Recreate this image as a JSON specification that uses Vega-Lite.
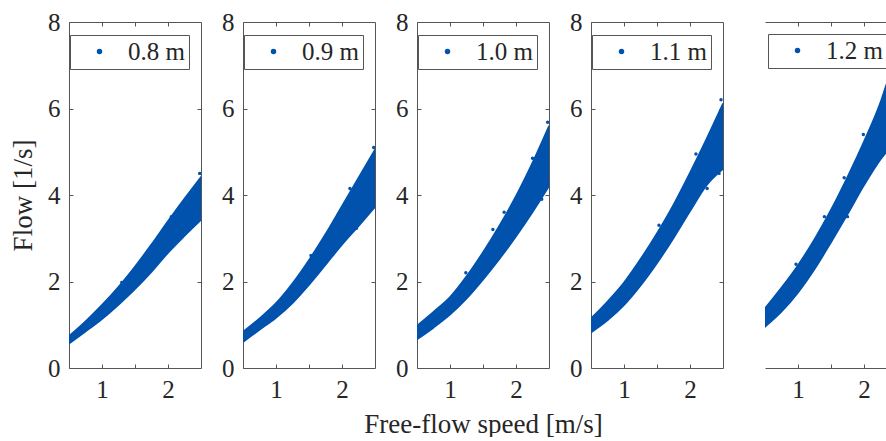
{
  "$schema": "https://vega.github.io/schema/vega-lite/v6.json",
  "padding": {"left": 9, "top": 10, "right": 0, "bottom": 0},
  "datasets": {
    "band": [
      {"h": "0.8 m", "x": 0.5, "lo": 0.56, "hi": 0.74},
      {"h": "0.8 m", "x": 0.75, "lo": 0.84, "hi": 1.08},
      {"h": "0.8 m", "x": 1.0, "lo": 1.13, "hi": 1.46},
      {"h": "0.8 m", "x": 1.25, "lo": 1.46, "hi": 1.88},
      {"h": "0.8 m", "x": 1.5, "lo": 1.82, "hi": 2.35},
      {"h": "0.8 m", "x": 1.75, "lo": 2.22, "hi": 2.86},
      {"h": "0.8 m", "x": 2.0, "lo": 2.66, "hi": 3.4},
      {"h": "0.8 m", "x": 2.25, "lo": 3.05, "hi": 3.92},
      {"h": "0.8 m", "x": 2.5, "lo": 3.42, "hi": 4.42},
      {"h": "0.9 m", "x": 0.5, "lo": 0.6, "hi": 0.84},
      {"h": "0.9 m", "x": 0.75, "lo": 0.88, "hi": 1.15},
      {"h": "0.9 m", "x": 1.0, "lo": 1.16, "hi": 1.5},
      {"h": "0.9 m", "x": 1.25, "lo": 1.5, "hi": 1.96},
      {"h": "0.9 m", "x": 1.5, "lo": 1.92, "hi": 2.5},
      {"h": "0.9 m", "x": 1.75, "lo": 2.38, "hi": 3.1},
      {"h": "0.9 m", "x": 2.0, "lo": 2.85, "hi": 3.75},
      {"h": "0.9 m", "x": 2.25, "lo": 3.28, "hi": 4.4},
      {"h": "0.9 m", "x": 2.5, "lo": 3.72, "hi": 5.05},
      {"h": "1.0 m", "x": 0.5, "lo": 0.66, "hi": 0.98},
      {"h": "1.0 m", "x": 0.75, "lo": 0.93, "hi": 1.3},
      {"h": "1.0 m", "x": 1.0, "lo": 1.23, "hi": 1.64},
      {"h": "1.0 m", "x": 1.25, "lo": 1.6, "hi": 2.12},
      {"h": "1.0 m", "x": 1.5, "lo": 2.04, "hi": 2.68},
      {"h": "1.0 m", "x": 1.75, "lo": 2.52, "hi": 3.3},
      {"h": "1.0 m", "x": 2.0, "lo": 3.04, "hi": 3.98},
      {"h": "1.0 m", "x": 2.25, "lo": 3.6, "hi": 4.75},
      {"h": "1.0 m", "x": 2.5, "lo": 4.2, "hi": 5.6},
      {"h": "1.1 m", "x": 0.5, "lo": 0.82, "hi": 1.15},
      {"h": "1.1 m", "x": 0.75, "lo": 1.1, "hi": 1.54},
      {"h": "1.1 m", "x": 1.0, "lo": 1.45, "hi": 1.98},
      {"h": "1.1 m", "x": 1.25, "lo": 1.9, "hi": 2.52},
      {"h": "1.1 m", "x": 1.5, "lo": 2.42, "hi": 3.12},
      {"h": "1.1 m", "x": 1.75, "lo": 3.0, "hi": 3.78},
      {"h": "1.1 m", "x": 2.0, "lo": 3.62, "hi": 4.52},
      {"h": "1.1 m", "x": 2.25, "lo": 4.22, "hi": 5.3},
      {"h": "1.1 m", "x": 2.5, "lo": 4.6, "hi": 6.12},
      {"h": "1.2 m", "x": 0.5, "lo": 0.95, "hi": 1.38},
      {"h": "1.2 m", "x": 0.75, "lo": 1.3, "hi": 1.86},
      {"h": "1.2 m", "x": 1.0, "lo": 1.74, "hi": 2.38},
      {"h": "1.2 m", "x": 1.25, "lo": 2.28, "hi": 2.98},
      {"h": "1.2 m", "x": 1.5, "lo": 2.9, "hi": 3.66},
      {"h": "1.2 m", "x": 1.75, "lo": 3.55, "hi": 4.42},
      {"h": "1.2 m", "x": 2.0, "lo": 4.22, "hi": 5.24},
      {"h": "1.2 m", "x": 2.25, "lo": 4.82, "hi": 6.15},
      {"h": "1.2 m", "x": 2.35, "lo": 5.02, "hi": 6.6},
      {"h": "1.2 m", "x": 2.5, "lo": 5.4, "hi": 7.1}
    ],
    "pts": [
      {"h": "0.8 m", "x": 2.48, "y": 4.5},
      {"h": "0.8 m", "x": 1.3, "y": 1.98},
      {"h": "0.8 m", "x": 2.05, "y": 3.5},
      {"h": "0.9 m", "x": 1.53, "y": 2.6},
      {"h": "0.9 m", "x": 2.12, "y": 4.15},
      {"h": "0.9 m", "x": 2.22, "y": 3.23},
      {"h": "0.9 m", "x": 2.48, "y": 5.1},
      {"h": "1.0 m", "x": 1.82, "y": 3.6},
      {"h": "1.0 m", "x": 1.65, "y": 3.2},
      {"h": "1.0 m", "x": 2.39, "y": 3.9},
      {"h": "1.0 m", "x": 1.24, "y": 2.2},
      {"h": "1.0 m", "x": 2.25, "y": 4.85},
      {"h": "1.0 m", "x": 2.48, "y": 5.68},
      {"h": "1.1 m", "x": 1.53, "y": 3.3},
      {"h": "1.1 m", "x": 2.26, "y": 4.15},
      {"h": "1.1 m", "x": 2.47, "y": 6.2},
      {"h": "1.1 m", "x": 2.09, "y": 4.95},
      {"h": "1.1 m", "x": 2.44, "y": 4.5},
      {"h": "1.2 m", "x": 1.7, "y": 4.4},
      {"h": "1.2 m", "x": 1.99, "y": 5.4},
      {"h": "1.2 m", "x": 1.4, "y": 3.5},
      {"h": "1.2 m", "x": 0.97, "y": 2.4},
      {"h": "1.2 m", "x": 1.75, "y": 3.5}
    ]
  },
  "spacing": 42,
  "bounds": "flush",
  "resolve": {"scale": {"color": "independent"}, "legend": {"color": "independent"}},
  "hconcat": [
    {
      "width": 132, "height": 346,
      "layer": [
        {
          "data": {"name": "band"},
          "transform": [{"filter": "datum.h == '0.8 m'"}],
          "mark": {"type": "area", "clip": true, "interpolate": "monotone", "stroke": "#0052ad", "strokeWidth": 1.5},
          "encoding": {
            "x": {"field": "x", "type": "quantitative", "scale": {"domain": [0.5, 2.5], "nice": false, "zero": false},
                  "axis": {"orient": "bottom", "values": [1, 1.5, 2], "labelExpr": "datum.value == 1 ? '1' : datum.value == 2 ? '2' : ''", "title": null}},
            "y": {"field": "lo", "type": "quantitative", "scale": {"domain": [0, 8], "nice": false},
                  "axis": {"orient": "left", "values": [0, 2, 4, 6, 8], "title": "Flow [1/s]", "titlePadding": 10}},
            "y2": {"field": "hi"},
            "color": {"field": "h", "type": "nominal", "scale": {"range": ["#0052ad"]},
                      "legend": {"orient": "none", "legendX": 1, "legendY": 13}}
          }
        },
        {
          "data": {"name": "pts"},
          "transform": [{"filter": "datum.h == '0.8 m'"}],
          "mark": {"type": "circle", "size": 12, "opacity": 1, "color": "#0052ad", "clip": true},
          "encoding": {
            "x": {"field": "x", "type": "quantitative", "axis": null},
            "y": {"field": "y", "type": "quantitative", "axis": null}
          }
        },
        {
          "data": {"name": "band"},
          "transform": [{"filter": "datum.h == '0.8 m'"}],
          "mark": {"type": "area", "opacity": 0},
          "encoding": {
            "x": {"field": "x", "type": "quantitative", "axis": {"orient": "top", "values": [1, 1.5, 2], "labels": false, "title": null}},
            "y": {"field": "lo", "type": "quantitative", "axis": {"orient": "right", "values": [2, 4, 6], "labels": false, "title": null}},
            "y2": {"field": "hi"}
          }
        }
      ],
      "resolve": {"axis": {"x": "independent", "y": "independent"}}
    },
    {
      "width": 132, "height": 346,
      "layer": [
        {
          "data": {"name": "band"},
          "transform": [{"filter": "datum.h == '0.9 m'"}],
          "mark": {"type": "area", "clip": true, "interpolate": "monotone", "stroke": "#0052ad", "strokeWidth": 1.5},
          "encoding": {
            "x": {"field": "x", "type": "quantitative", "scale": {"domain": [0.5, 2.5], "nice": false, "zero": false},
                  "axis": {"orient": "bottom", "values": [1, 1.5, 2], "labelExpr": "datum.value == 1 ? '1' : datum.value == 2 ? '2' : ''", "title": null}},
            "y": {"field": "lo", "type": "quantitative", "scale": {"domain": [0, 8], "nice": false},
                  "axis": {"orient": "left", "values": [0, 2, 4, 6, 8], "title": null}},
            "y2": {"field": "hi"},
            "color": {"field": "h", "type": "nominal", "scale": {"range": ["#0052ad"]},
                      "legend": {"orient": "none", "legendX": 1, "legendY": 13}}
          }
        },
        {
          "data": {"name": "pts"},
          "transform": [{"filter": "datum.h == '0.9 m'"}],
          "mark": {"type": "circle", "size": 12, "opacity": 1, "color": "#0052ad", "clip": true},
          "encoding": {
            "x": {"field": "x", "type": "quantitative", "axis": null},
            "y": {"field": "y", "type": "quantitative", "axis": null}
          }
        },
        {
          "data": {"name": "band"},
          "transform": [{"filter": "datum.h == '0.9 m'"}],
          "mark": {"type": "area", "opacity": 0},
          "encoding": {
            "x": {"field": "x", "type": "quantitative", "axis": {"orient": "top", "values": [1, 1.5, 2], "labels": false, "title": null}},
            "y": {"field": "lo", "type": "quantitative", "axis": {"orient": "right", "values": [2, 4, 6], "labels": false, "title": null}},
            "y2": {"field": "hi"}
          }
        }
      ],
      "resolve": {"axis": {"x": "independent", "y": "independent"}}
    },
    {
      "width": 132, "height": 346,
      "layer": [
        {
          "data": {"name": "band"},
          "transform": [{"filter": "datum.h == '1.0 m'"}],
          "mark": {"type": "area", "clip": true, "interpolate": "monotone", "stroke": "#0052ad", "strokeWidth": 1.5},
          "encoding": {
            "x": {"field": "x", "type": "quantitative", "scale": {"domain": [0.5, 2.5], "nice": false, "zero": false},
                  "axis": {"orient": "bottom", "values": [1, 1.5, 2], "labelExpr": "datum.value == 1 ? '1' : datum.value == 2 ? '2' : ''", "title": "Free-flow speed [m/s]", "titlePadding": 9}},
            "y": {"field": "lo", "type": "quantitative", "scale": {"domain": [0, 8], "nice": false},
                  "axis": {"orient": "left", "values": [0, 2, 4, 6, 8], "title": null}},
            "y2": {"field": "hi"},
            "color": {"field": "h", "type": "nominal", "scale": {"range": ["#0052ad"]},
                      "legend": {"orient": "none", "legendX": 1, "legendY": 13}}
          }
        },
        {
          "data": {"name": "pts"},
          "transform": [{"filter": "datum.h == '1.0 m'"}],
          "mark": {"type": "circle", "size": 12, "opacity": 1, "color": "#0052ad", "clip": true},
          "encoding": {
            "x": {"field": "x", "type": "quantitative", "axis": null},
            "y": {"field": "y", "type": "quantitative", "axis": null}
          }
        },
        {
          "data": {"name": "band"},
          "transform": [{"filter": "datum.h == '1.0 m'"}],
          "mark": {"type": "area", "opacity": 0},
          "encoding": {
            "x": {"field": "x", "type": "quantitative", "axis": {"orient": "top", "values": [1, 1.5, 2], "labels": false, "title": null}},
            "y": {"field": "lo", "type": "quantitative", "axis": {"orient": "right", "values": [2, 4, 6], "labels": false, "title": null}},
            "y2": {"field": "hi"}
          }
        }
      ],
      "resolve": {"axis": {"x": "independent", "y": "independent"}}
    },
    {
      "width": 132, "height": 346,
      "layer": [
        {
          "data": {"name": "band"},
          "transform": [{"filter": "datum.h == '1.1 m'"}],
          "mark": {"type": "area", "clip": true, "interpolate": "monotone", "stroke": "#0052ad", "strokeWidth": 1.5},
          "encoding": {
            "x": {"field": "x", "type": "quantitative", "scale": {"domain": [0.5, 2.5], "nice": false, "zero": false},
                  "axis": {"orient": "bottom", "values": [1, 1.5, 2], "labelExpr": "datum.value == 1 ? '1' : datum.value == 2 ? '2' : ''", "title": null}},
            "y": {"field": "lo", "type": "quantitative", "scale": {"domain": [0, 8], "nice": false},
                  "axis": {"orient": "left", "values": [0, 2, 4, 6, 8], "title": null}},
            "y2": {"field": "hi"},
            "color": {"field": "h", "type": "nominal", "scale": {"range": ["#0052ad"]},
                      "legend": {"orient": "none", "legendX": 1, "legendY": 13}}
          }
        },
        {
          "data": {"name": "pts"},
          "transform": [{"filter": "datum.h == '1.1 m'"}],
          "mark": {"type": "circle", "size": 12, "opacity": 1, "color": "#0052ad", "clip": true},
          "encoding": {
            "x": {"field": "x", "type": "quantitative", "axis": null},
            "y": {"field": "y", "type": "quantitative", "axis": null}
          }
        },
        {
          "data": {"name": "band"},
          "transform": [{"filter": "datum.h == '1.1 m'"}],
          "mark": {"type": "area", "opacity": 0},
          "encoding": {
            "x": {"field": "x", "type": "quantitative", "axis": {"orient": "top", "values": [1, 1.5, 2], "labels": false, "title": null}},
            "y": {"field": "lo", "type": "quantitative", "axis": {"orient": "right", "values": [2, 4, 6], "labels": false, "title": null}},
            "y2": {"field": "hi"}
          }
        }
      ],
      "resolve": {"axis": {"x": "independent", "y": "independent"}}
    },
    {
      "width": 121, "height": 346,
      "layer": [
        {
          "data": {"name": "band"},
          "transform": [{"filter": "datum.h == '1.2 m'"}],
          "mark": {"type": "area", "clip": true, "interpolate": "monotone", "stroke": "#0052ad", "strokeWidth": 1.5},
          "encoding": {
            "x": {"field": "x", "type": "quantitative", "scale": {"domain": [0.5, 2.3333], "nice": false, "zero": false},
                  "axis": {"orient": "bottom", "values": [1, 1.5, 2], "labelExpr": "datum.value == 1 ? '1' : datum.value == 2 ? '2' : ''", "title": null}},
            "y": {"field": "lo", "type": "quantitative", "scale": {"domain": [0, 8], "nice": false},
                  "axis": {"orient": "left", "values": [0, 2, 4, 6, 8], "title": null}},
            "y2": {"field": "hi"},
            "color": {"field": "h", "type": "nominal", "scale": {"range": ["#0052ad"]},
                      "legend": {"orient": "none", "legendX": 3, "legendY": 12}}
          }
        },
        {
          "data": {"name": "pts"},
          "transform": [{"filter": "datum.h == '1.2 m'"}],
          "mark": {"type": "circle", "size": 12, "opacity": 1, "color": "#0052ad", "clip": true},
          "encoding": {
            "x": {"field": "x", "type": "quantitative", "axis": null},
            "y": {"field": "y", "type": "quantitative", "axis": null}
          }
        },
        {
          "data": {"name": "band"},
          "transform": [{"filter": "datum.h == '1.2 m'"}],
          "mark": {"type": "area", "opacity": 0, "clip": true},
          "encoding": {
            "x": {"field": "x", "type": "quantitative", "axis": {"orient": "top", "values": [1, 1.5, 2], "labels": false, "title": null}},
            "y": {"field": "lo", "type": "quantitative", "axis": null},
            "y2": {"field": "hi"}
          }
        }
      ],
      "resolve": {"axis": {"x": "independent"}}
    }
  ],
  "config": {
    "font": "Liberation Serif",
    "view": {"stroke": null},
    "axis": {
      "grid": false,
      "domainColor": "#555555",
      "tickColor": "#555555",
      "labelColor": "#262626",
      "titleColor": "#262626",
      "labelFont": "Liberation Serif",
      "titleFont": "Liberation Serif",
      "labelFontSize": 25,
      "titleFontSize": 27,
      "titleFontWeight": "normal",
      "tickSize": -4,
      "labelPadding": 13,
      "labelOverlap": false,
      "labelFlush": false,
      "labelBound": false
    },
    "legend": {
      "title": null,
      "symbolType": "circle",
      "symbolSize": 16,
      "symbolOffset": 13,
      "labelOffset": 16,
      "padding": 4,
      "strokeColor": "#555555",
      "fillColor": "white",
      "labelFont": "Liberation Serif",
      "labelFontSize": 25,
      "labelColor": "#262626"
    }
  }
}
